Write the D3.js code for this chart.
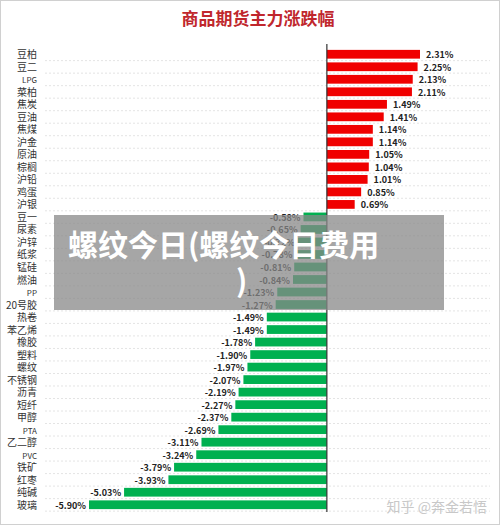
<!DOCTYPE html>
<html><head><meta charset="utf-8">
<script src="https://cdn.jsdelivr.net/npm/d3@7"></script>
<style>body{margin:0;background:#fff}svg{font-family:"Noto Sans CJK SC","Noto Sans",sans-serif}</style>
</head><body><svg id="chart" width="500" height="525"></svg>
<script>
const names = ['豆柏','豆二','LPG','菜柏','焦炭','豆油','焦煤','沪金','原油','棕榈','沪铅','鸡蛋','沪银',
  '豆一','尿素','沪锌','纸浆','锰硅','燃油','PP','20号胶',
  '热卷','苯乙烯','橡胶','塑料','螺纹','不锈钢','沥青','短纤','甲醇','PTA','乙二醇','PVC','铁矿','红枣','纯碱','玻璃'];
const changes = [2.31,2.25,2.13,2.11,1.49,1.41,1.14,1.14,1.05,1.04,1.01,0.85,0.69,
  -0.58,-0.65,-0.72,-0.78,-0.81,-0.84,-1.23,-1.27,
  -1.49,-1.49,-1.78,-1.90,-1.97,-2.07,-2.19,-2.27,-2.37,-2.69,-3.11,-3.24,-3.79,-3.93,-5.03,-5.90];

const svg = d3.select('#chart');
svg.append('rect').attr('x',0.5).attr('y',0.5).attr('width',499).attr('height',524)
  .attr('fill','#fff').attr('stroke','#d0d0d0');

svg.append('text').attr('x',258).attr('y',25).attr('text-anchor','middle')
  .attr('font-size',17).attr('font-weight','bold').attr('fill','#c0272d').text('商品期货主力涨跌幅');

const x = d3.scaleLinear().domain([-5.9, 2.31]).range([89, 420]);
const y = d3.scaleBand().domain(names).range([48, 511]).paddingInner(0.3).paddingOuter(0.15);

// dashed grid
svg.append('g').selectAll('line').data(names).enter().append('line')
  .attr('x1',45).attr('x2',490)
  .attr('y1',d => y(d) + y.bandwidth() + 2).attr('y2',d => y(d) + y.bandwidth() + 2)
  .attr('stroke','#e4e4e4').attr('stroke-dasharray','2,2');

svg.append('g').selectAll('rect').data(changes).enter().append('rect')
  .attr('x',d => x(Math.min(0,d))).attr('width',d => Math.abs(x(d)-x(0)))
  .attr('y',(d,i) => y(names[i])).attr('height',y.bandwidth())
  .attr('fill',d => d > 0 ? '#f00000' : '#00b050');

svg.append('g').selectAll('text').data(changes).enter().append('text')
  .attr('x',d => d > 0 ? x(d) + 6 : x(d) - 3)
  .attr('y',(d,i) => y(names[i]) + y.bandwidth()/2 + 4)
  .attr('text-anchor',d => d > 0 ? 'start' : 'end')
  .attr('font-size',9).attr('font-weight','bold').attr('fill','#222')
  .text(d => d.toFixed(2) + '%');

svg.append('g').selectAll('text').data(names).enter().append('text')
  .attr('x',37).attr('y',d => y(d) + y.bandwidth()/2 + 4)
  .attr('text-anchor','end').attr('fill','#333')
  .attr('font-size',d => /^[A-Z]+$/.test(d) ? 8 : 10).text(d => d);

svg.append('line').attr('x1',x(0)).attr('x2',x(0)).attr('y1',44).attr('y2',512)
  .attr('stroke','#333').attr('stroke-width',1.2);

// overlay
svg.append('rect').attr('x',54).attr('y',215).attr('width',390).attr('height',95)
  .attr('fill','#888').attr('opacity',0.75);
svg.append('text').attr('x',68).attr('y',256).attr('font-size',30).attr('font-weight','bold')
  .attr('fill','#fff').text('螺纹今日(螺纹今日费用');
svg.append('text').attr('x',236).attr('y',292).attr('font-size',30).attr('font-weight','bold')
  .attr('fill','#fff').text(')');

svg.append('text').attr('x',487).attr('y',512).attr('text-anchor','end').attr('font-size',14)
  .attr('fill','#c8c8c8').text('知乎 @奔金若悟');
</script></body></html>
